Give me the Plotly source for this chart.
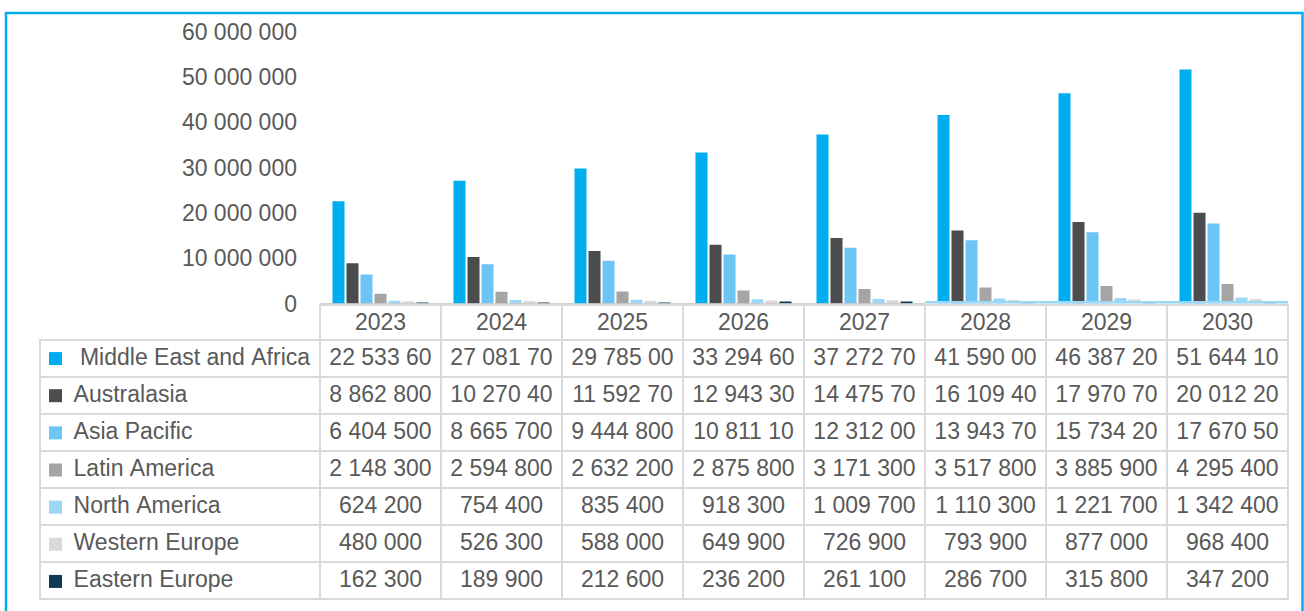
import plotly.graph_objects as go

years = ["2023", "2024", "2025", "2026", "2027", "2028", "2029", "2030"]
series_names = [" Middle East and Africa", "Australasia", "Asia Pacific", "Latin America",
                "North America", "Western Europe", "Eastern Europe"]
colors = ["#00AEEF", "#4B4C4E", "#6CC5F4", "#A5A5A6", "#9BD7F7", "#D9D9D9", "#0D3A52"]

mea = [22533600, 27081700, 29785000, 33294600, 37272700, 41590000, 46387200, 51644100]
australasia = [8862800, 10270400, 11592700, 12943300, 14475700, 16109400, 17970700, 20012200]
asia_pacific = [6404500, 8665700, 9444800, 10811100, 12312000, 13943700, 15734200, 17670500]
latin_america = [2148300, 2594800, 2632200, 2875800, 3171300, 3517800, 3885900, 4295400]
north_america = [624200, 754400, 835400, 918300, 1009700, 1110300, 1221700, 1342400]
western_europe = [480000, 526300, 588000, 649900, 726900, 793900, 877000, 968400]
eastern_europe = [162300, 189900, 212600, 236200, 261100, 286700, 315800, 347200]
all_series = [mea, australasia, asia_pacific, latin_america, north_america,
              western_europe, eastern_europe]

W, H = 1304, 611
FONT = "Liberation Sans, Arial, sans-serif"
TXT = "#595959"
GRID = "#D9D9D9"
NB = "\u00a0"
CLEAR = "rgba(0,0,0,0)"


def px_x(p):
    return p / W


def px_y(p):
    return 1 - p / H


def fmt(v):
    # cell shows at most 9 characters (longer values are cut off in the table)
    return f"{v:,}".replace(",", " ")[:9].replace(" ", NB)


fig = go.Figure()

for name, vals, col in zip(series_names, all_series, colors):
    fig.add_trace(go.Bar(x=years, y=vals, name=name.strip(), marker=dict(color=col, line=dict(width=0)),
                         xaxis="x", yaxis="y", showlegend=False))

# legend keys (drawn under the transparent first table column)
fig.add_trace(go.Scatter(x=[0] * len(series_names), y=series_names, mode="markers",
                         marker=dict(symbol="square", size=13, color=colors, line=dict(width=0)),
                         xaxis="x2", yaxis="y2", showlegend=False, hoverinfo="skip"))

# data table
first_col = [NB * 4 + n.replace(" ", NB) for n in series_names]
year_cols = [[fmt(s[i]) for s in all_series] for i in range(len(years))]

fig.add_trace(go.Table(
    domain=dict(x=[px_x(40), px_x(1288)], y=[px_y(600), px_y(305)]),
    columnwidth=[280] + [121] * len(years),
    header=dict(values=[""] + years,
                fill=dict(color=[CLEAR] + ["white"] * len(years)),
                line=dict(color=[CLEAR] + [GRID] * len(years), width=2),
                font=dict(family=FONT, size=23, color=TXT),
                align="center", height=35),
    cells=dict(values=[first_col] + year_cols,
               fill=dict(color=[CLEAR] + ["white"] * len(years)),
               line=dict(color=GRID, width=2),
               font=dict(family=FONT, size=23, color=TXT),
               align=["left"] + ["center"] * len(years), height=37),
))

fig.update_layout(
    width=W, height=H,
    margin=dict(l=0, r=0, t=0, b=0, autoexpand=False),
    paper_bgcolor="white", plot_bgcolor="rgba(0,0,0,0)",
    separators=". ",
    font=dict(family=FONT, size=23, color=TXT),
    barmode="group", bargap=0.19, bargroupgap=0.14,
    xaxis=dict(domain=[px_x(320), px_x(1288)], showticklabels=False, showgrid=False,
               zeroline=False, showline=False, ticks="", range=[-0.5, 7.5], automargin=False),
    yaxis=dict(domain=[px_y(303.5), px_y(31.5)], range=[0, 60000000], dtick=10000000,
               showgrid=False, zeroline=False, showline=False, ticks="", automargin=False,
               tickformat=",d", ticklabelstandoff=22,
               tickfont=dict(family=FONT, size=23, color=TXT)),
    xaxis2=dict(domain=[px_x(45), px_x(66)], range=[-1, 1], visible=False),
    yaxis2=dict(domain=[px_y(600), px_y(340)], range=[6.5, -0.5], type="category",
                categoryorder="array", categoryarray=series_names, visible=False),
    shapes=[
        dict(type="rect", xref="x", yref="y", x0=-0.5, x1=4.5, y0=-660000, y1=110000,
             fillcolor="#A5A5A6", line=dict(width=0), layer="above"),
        dict(type="rect", xref="x", yref="y", x0=4.5, x1=7.5, y0=-550000, y1=550000,
             fillcolor="#9BD7F7", line=dict(width=0), layer="above"),
        dict(type="rect", xref="paper", yref="paper", x0=px_x(6), x1=px_x(1302.5),
             y0=-0.1, y1=px_y(13), line=dict(color="#00AEEF", width=2.5),
             fillcolor="rgba(0,0,0,0)", layer="above"),
    ],
)

fig.write_html("out.html")
